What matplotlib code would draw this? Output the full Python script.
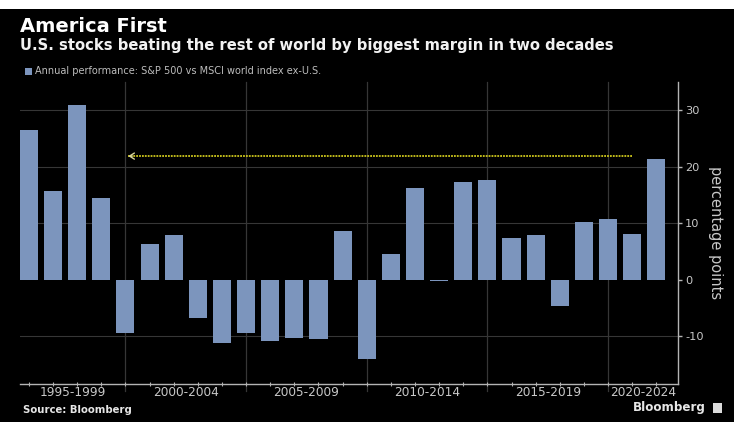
import numpy as np
import matplotlib
matplotlib.use("Agg")
import matplotlib.pyplot as plt
from matplotlib.patches import Rectangle
from matplotlib.transforms import blended_transform_factory

plt.rcParams["font.family"] = ["DejaVu Sans"]

# ── Data ─────────────────────────────────────────────────────────────────────
YEARS = list(range(1995, 2022))
# S&P 500 annual return minus MSCI world ex-U.S., percentage points
SPREAD = [26.5, 15.8, 30.9, 14.5, -9.3, 6.3, 8.0, -6.8, -11.1, -9.3,
          -10.8, -10.2, -10.5, 8.6, -13.9, 4.5, 16.2, -0.2, 17.4, 17.7,
          7.4, 7.9, -4.6, 10.2, 10.8, 8.1, 21.3]
PERIODS     = ["1995-1999", "2000-2004", "2005-2009",
               "2010-2014", "2015-2019", "2020-2024"]
PERIOD_ENDS = [1999, 2004, 2009, 2014, 2019]
Y_TICKS     = [-10, 0, 10, 20, 30]

# arrow: latest gap back to the last time it was this wide
ARROW_FROM, ARROW_TO, ARROW_Y = 2020, 1999, 21.9

# ── Style ────────────────────────────────────────────────────────────────────
BG        = "#000000"
BAR       = "#7c95bd"
GRID      = "#363636"
AXIS      = "#b4b4b4"
TICK_TXT  = "#c8c8c8"
YELLOW    = "#cfc81c"

XMIN, XMAX = 1994.63, 2021.9
YMIN, YMAX = -18.4, 35.0

fig = plt.figure(figsize=(7.34, 4.22), dpi=100, facecolor=BG)
ax = fig.add_axes([20 / 734, 38 / 422, 658 / 734, 302 / 422], facecolor=BG)

ax.bar(YEARS, SPREAD, width=0.75, color=BAR, zorder=3)

ax.set_xlim(XMIN, XMAX)
ax.set_ylim(YMIN, YMAX)

# horizontal grid
for v in Y_TICKS:
    if v != 0:
        ax.axhline(v, color=GRID, lw=0.8, zorder=1)
# period separators, running a little below the axis line
for e in PERIOD_ENDS:
    ax.plot([e, e], [YMIN - 1.2, YMAX], color=GRID, lw=0.9, zorder=1,
            clip_on=False)

# yellow dotted arrow
ax.plot([ARROW_FROM, ARROW_TO + 0.1], [ARROW_Y, ARROW_Y], color=YELLOW,
        lw=1.3, ls=(0, (1, 0.6)), zorder=4)
ax.annotate("", xy=(ARROW_TO, ARROW_Y), xytext=(ARROW_TO + 0.4, ARROW_Y),
            arrowprops=dict(arrowstyle="->,head_length=0.35,head_width=0.22",
                            color="#d8d49a", lw=1.0), zorder=5)

# spines
for s in ("left", "top"):
    ax.spines[s].set_visible(False)
ax.spines["right"].set_color(AXIS)
ax.spines["bottom"].set_color(AXIS)
ax.spines["right"].set_linewidth(1.0)
ax.spines["bottom"].set_linewidth(1.0)

# y axis on the right
ax.yaxis.tick_right()
ax.yaxis.set_label_position("right")
ax.set_yticks(Y_TICKS)
ax.set_yticklabels([str(v) for v in Y_TICKS])
ax.tick_params(axis="y", colors=AXIS, labelcolor=TICK_TXT, length=3,
               width=1, labelsize=8.2, pad=2)
ax.set_ylabel("percentage points", rotation=-90, color=TICK_TXT,
              fontsize=10.5, labelpad=14)

# x axis: yearly minor ticks, period labels centred between separators
ax.set_xticks(YEARS, minor=True)
ax.set_xticks([])
ax.tick_params(axis="x", which="minor", direction="inout", length=3,
               width=0.8, colors=AXIS)
bounds = [XMIN] + PERIOD_ENDS + [XMAX]
trans = blended_transform_factory(ax.transData, ax.transAxes)
for lab, a, b in zip(PERIODS, bounds[:-1], bounds[1:]):
    ax.text((a + b) / 2, -9 / 302, lab, transform=trans, ha="center",
            va="center", color=TICK_TXT, fontsize=8.7)

# ── Header / footer ──────────────────────────────────────────────────────────
fig.patches.append(Rectangle((0, 1 - 9 / 422), 1, 9 / 422, transform=fig.transFigure,
                             facecolor="white", edgecolor="none", zorder=0))
fig.text(20 / 734, 1 - 32 / 422, "America First", color="white",
         fontsize=14, fontweight="bold", va="baseline")
fig.text(20 / 734, 1 - 50 / 422,
         "U.S. stocks beating the rest of world by biggest margin in two decades",
         color="#f2f2f2", fontsize=10.6, fontweight="bold", va="baseline")
fig.patches.append(Rectangle((25 / 734, 1 - 75 / 422), 7 / 734, 7 / 422,
                             transform=fig.transFigure, facecolor=BAR,
                             edgecolor="none"))
fig.text(35 / 734, 1 - 71 / 422,
         "Annual performance: S&P 500 vs MSCI world index ex-U.S.",
         color="#bdbdbd", fontsize=7.0, va="center")
fig.text(23 / 734, 1 - 410 / 422, "Source: Bloomberg", color="#e6e6e6",
         fontsize=7.3, fontweight="bold", va="center")
fig.text(706 / 734, 1 - 408 / 422, "Bloomberg", color="#e6e6e6",
         fontsize=8.6, fontweight="bold", va="center", ha="right")
fig.patches.append(Rectangle((713 / 734, 1 - 413 / 422), 9 / 734, 10 / 422,
                             transform=fig.transFigure, facecolor="#dcdcdc",
                             edgecolor="none"))

fig.savefig("out.png", dpi=100, facecolor=BG)
